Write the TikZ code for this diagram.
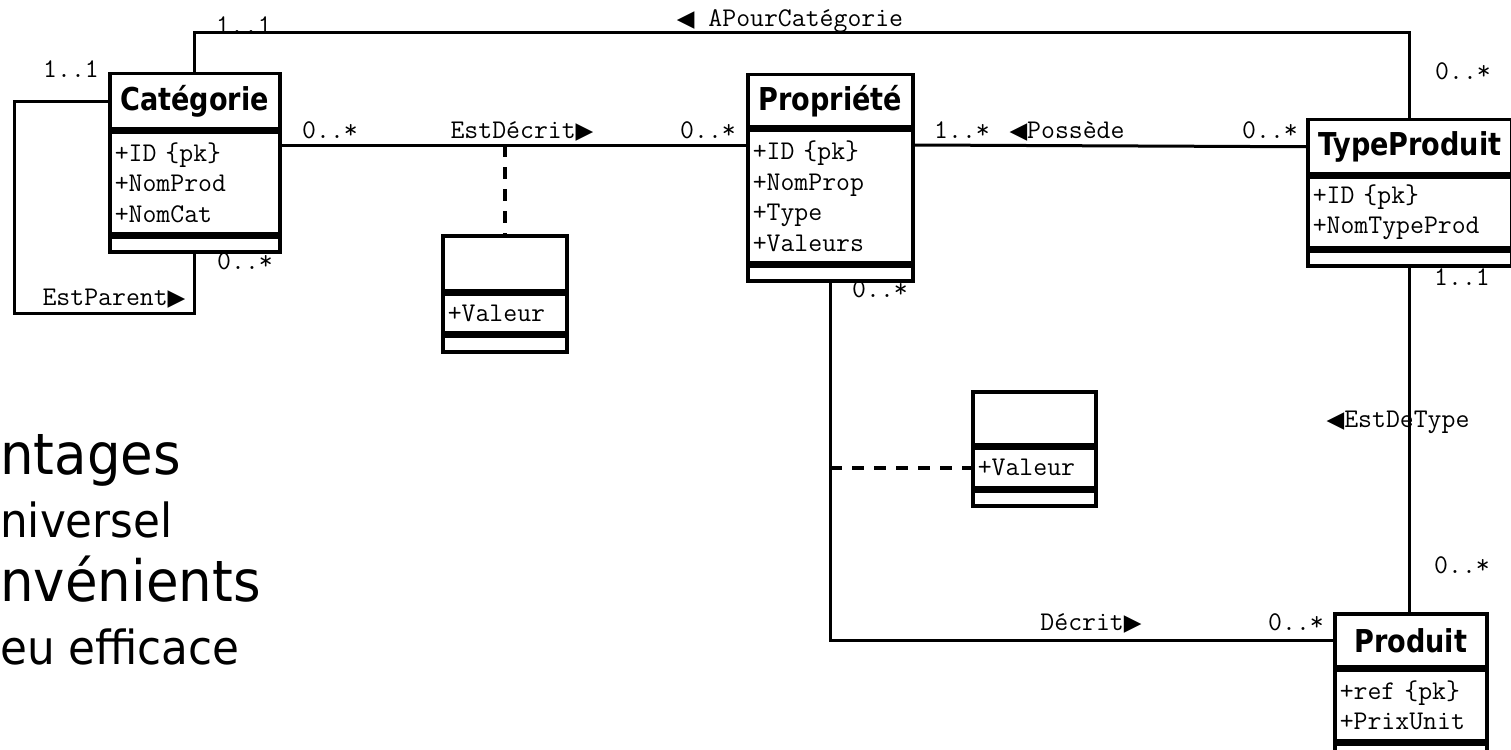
\documentclass[tikz,border=0pt]{standalone}
\usepackage{fontspec}
\usetikzlibrary{positioning}
\newfontfamily\slidefont[FakeStretch=0.93]{DejaVu Sans}
\newfontfamily\titlefont[FakeStretch=0.86]{DejaVu Sans}
\newfontfamily\pointerfont{DejaVu Sans}
\newcommand{\rtri}{{\pointerfont\fontsize{23}{23}\selectfont ▶}}
\newcommand{\ltri}{{\pointerfont\fontsize{23}{23}\selectfont ◀}}

\begin{document}
\begin{tikzpicture}[
  x=1pt, y=-1pt,
  classtitle/.style={draw, line width=3.5pt, inner sep=0pt, anchor=north west,
    font=\titlefont\bfseries\fontsize{31.5}{34}\selectfont},
  classattr/.style={draw, line width=3.5pt, inner xsep=5pt, inner ysep=0pt,
    anchor=north, align=left, font=\ttfamily\fontsize{27}{30.5}\selectfont},
  classops/.style={draw, line width=3.5pt, inner sep=0pt, anchor=north},
  assoc/.style={line width=3pt},
  assocdash/.style={line width=3.5pt, dash pattern=on 12pt off 10pt},
  mult/.style={anchor=base, inner sep=0pt, font=\ttfamily\fontsize{27}{30}\selectfont},
  slidebig/.style={anchor=base west, inner sep=0pt, font=\slidefont\fontsize{57}{60}\selectfont},
  slidesmall/.style={anchor=base west, inner sep=0pt, font=\slidefont\fontsize{47}{50}\selectfont}
]
\useasboundingbox (0,0) rectangle (1511,749);
\fill[white] (0,0) rectangle (1511,749);

% ── slide text behind the diagram ───────────────────────────────────
\node[slidebig]   (slideA) at (0,474) {ntages};
\node[slidesmall] (slideB) at (0,537) {niversel};
\node[slidebig]   (slideC) at (0,601) {nvénients};
\node[slidesmall] (slideD) at (0,664) {eu efficace};

% ── classes ─────────────────────────────────────────────────────────
\node[classtitle, minimum width=170pt, minimum height=55pt] (cat) at (108,72) {Catégorie};
\node[classattr, text width=160pt, minimum height=101pt] (catA) at (cat.south)
  {+ID \{pk\}\\+NomProd\\+NomCat};
\node[classops, minimum width=170pt, minimum height=15pt] (catO) at (catA.south) {};

\node[classtitle, minimum width=165pt, minimum height=52pt] (prop) at (746,73) {Propriété};
\node[classattr, text width=155pt, minimum height=132pt] (propA) at (prop.south)
  {+ID \{pk\}\\+NomProp\\+Type\\+Valeurs};
\node[classops, minimum width=165pt, minimum height=15pt] (propO) at (propA.south) {};

\node[classtitle, minimum width=204pt, minimum height=54pt] (tp) at (1306,118) {TypeProduit};
\node[classattr, text width=194pt, minimum height=70pt] (tpA) at (tp.south)
  {+ID \{pk\}\\+NomTypeProd};
\node[classops, minimum width=204pt, minimum height=15pt] (tpO) at (tpA.south) {};

\node[classtitle, minimum width=152pt, minimum height=53pt] (prod) at (1333,612) {Produit};
\node[classattr, text width=142pt, minimum height=70pt] (prodA) at (prod.south)
  {+ref \{pk\}\\+PrixUnit};
\node[classops, minimum width=152pt, minimum height=16pt] (prodO) at (prodA.south) {};

% ── association classes ─────────────────────────────────────────────
\node[classtitle, minimum width=124pt, minimum height=55pt] (assocA) at (441,234) {};
\node[classattr, text width=114pt, minimum height=38pt] (assocAA) at (assocA.south) {+Valeur};
\node[classops, minimum width=124pt, minimum height=16pt] (assocAO) at (assocAA.south) {};

\node[classtitle, minimum width=123pt, minimum height=53pt] (assocB) at (971,390) {};
\node[classattr, text width=113pt, minimum height=39pt] (assocBA) at (assocB.south) {+Valeur};
\node[classops, minimum width=123pt, minimum height=15pt] (assocBO) at (assocBA.south) {};

% ── associations ────────────────────────────────────────────────────
\coordinate (loopcorner) at (14,313);
\draw[assoc] (cat.north) -- ++(0,-39) -| (tp.north);
\draw[assoc] (cat.west) -| (loopcorner) -| (catO.south);
\draw[assoc] (catA.east |- 0,145) -- (propA.west |- 0,145);
\draw[assocdash] (assocA.north |- 0,145) -- (assocA.north);
\draw[assoc] (propA.east |- 0,145) -- (tp.west);
\draw[assoc] (propO.south) |- (prod.west);
\draw[assocdash] (propO.south |- assocBA.west) -- (assocBA.west);
\draw[assoc] (tpO.south) -- (tpO.south |- prod.north);

% ── multiplicities and names ────────────────────────────────────────
\node[mult] (mTopCat)   at (244,34)  {1..1};
\node[mult] (mLoopA)    at (71,78)   {1..1};
\node[mult] (mLoopB)    at (245,269) {0..*};
\node[mult] (nParent)   at (114,305) {EstParent\rtri};
\node[mult] (mDecCat)   at (330,138) {0..*};
\node[mult] (nEstDecrit) at (522,138) {EstDécrit\rtri};
\node[mult] (mDecProp)  at (708,138) {0..*};
\node[mult] (nPourCat)  at (790,27)  {\ltri\ APourCatégorie};
\node[mult] (mTopTp)    at (1463,80) {0..*};
\node[mult] (mPosProp)  at (962,138) {1..*};
\node[mult] (nPossede)  at (1067,138) {\ltri Possède};
\node[mult] (mPosTp)    at (1270,138) {0..*};
\node[mult] (mDesProp)  at (880,297) {0..*};
\node[mult] (mTypeTp)   at (1462,285) {1..1};
\node[mult] (nDeType)   at (1398,427) {\ltri EstDeType};
\node[mult] (mTypeProd) at (1462,573) {0..*};
\node[mult] (nDecrit)   at (1091,630) {Décrit\rtri};
\node[mult] (mDesProd)  at (1296,630) {0..*};

\end{tikzpicture}
\end{document}
